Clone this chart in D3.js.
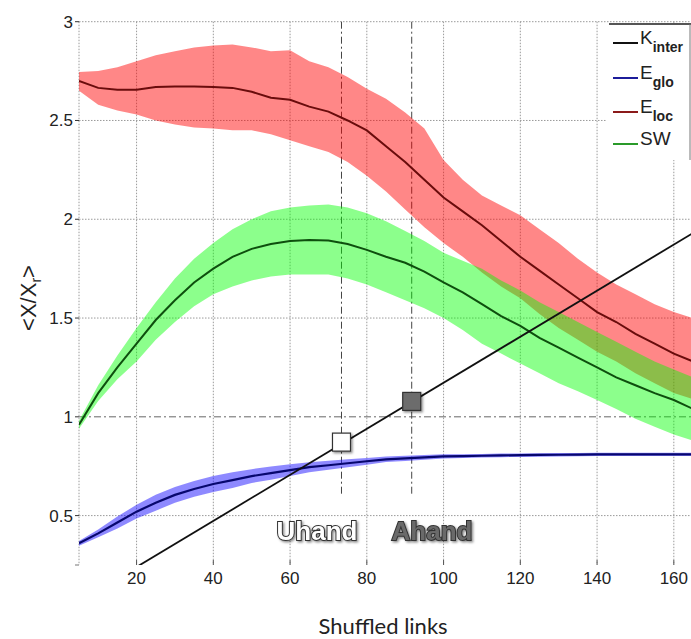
<!DOCTYPE html>
<html>
<head>
<meta charset="utf-8">
<script src="https://cdn.jsdelivr.net/npm/d3@7"></script>
<style>
  body { margin: 0; background: #fff; }
  svg { display: block; }
</style>
</head>
<body>
<svg id="chart" width="691" height="639"></svg>
<script>
// shuffled links (x) sampled every 5
const xs = [5,10,15,20,25,30,35,40,45,50,55,60,65,70,75,80,85,90,95,100,105,110,115,120,125,130,135,140,145,150,155,160,165];

// E_loc (red)
const elocMean  = [2.70,2.665,2.655,2.655,2.67,2.672,2.672,2.67,2.665,2.645,2.615,2.605,2.57,2.545,2.50,2.45,2.37,2.29,2.20,2.11,2.04,1.97,1.89,1.81,1.74,1.67,1.60,1.53,1.48,1.42,1.37,1.32,1.28];
const elocUpper = [2.745,2.75,2.77,2.80,2.83,2.85,2.87,2.88,2.885,2.87,2.85,2.855,2.80,2.77,2.72,2.66,2.61,2.54,2.46,2.30,2.20,2.12,2.07,2.02,1.95,1.88,1.80,1.73,1.67,1.62,1.57,1.53,1.50];
const elocLower = [2.65,2.58,2.55,2.53,2.50,2.48,2.465,2.46,2.45,2.45,2.43,2.40,2.37,2.34,2.29,2.22,2.14,2.05,1.96,1.88,1.81,1.73,1.66,1.60,1.52,1.45,1.39,1.33,1.28,1.22,1.17,1.12,1.09];

// SW (green)
const swMean  = [0.96,1.12,1.25,1.37,1.49,1.59,1.68,1.75,1.81,1.85,1.875,1.89,1.895,1.893,1.875,1.845,1.81,1.78,1.735,1.68,1.63,1.57,1.51,1.46,1.40,1.35,1.30,1.25,1.20,1.16,1.12,1.085,1.04];
const swUpper = [0.98,1.16,1.31,1.45,1.58,1.70,1.80,1.88,1.95,2.00,2.04,2.06,2.07,2.075,2.06,2.03,1.99,1.94,1.89,1.83,1.79,1.75,1.69,1.64,1.58,1.53,1.48,1.43,1.38,1.33,1.28,1.24,1.20];
const swLower = [0.94,1.08,1.19,1.28,1.39,1.48,1.56,1.62,1.66,1.69,1.71,1.72,1.72,1.72,1.70,1.67,1.63,1.59,1.55,1.50,1.44,1.37,1.32,1.27,1.22,1.17,1.13,1.085,1.04,0.99,0.95,0.91,0.88];

// E_glo (blue)
const egloMean  = [0.36,0.41,0.465,0.52,0.565,0.605,0.635,0.66,0.68,0.70,0.715,0.73,0.745,0.755,0.765,0.775,0.785,0.79,0.795,0.80,0.801,0.803,0.805,0.806,0.807,0.808,0.809,0.81,0.81,0.81,0.81,0.81,0.81];
const egloUpper = [0.372,0.43,0.495,0.555,0.605,0.645,0.675,0.70,0.72,0.735,0.748,0.76,0.77,0.778,0.785,0.792,0.799,0.803,0.807,0.811,0.811,0.812,0.814,0.815,0.816,0.817,0.817,0.818,0.818,0.818,0.818,0.818,0.818];
const egloLower = [0.348,0.39,0.435,0.485,0.525,0.565,0.595,0.62,0.64,0.665,0.682,0.70,0.72,0.732,0.745,0.758,0.771,0.777,0.783,0.789,0.791,0.794,0.796,0.797,0.798,0.799,0.801,0.802,0.802,0.802,0.802,0.802,0.802];

// K_inter (straight line)
const kinterX = [20, 165];
const kinterY = [0.24, 1.93];

// hand thresholds
const handNames = ["Uhand", "Ahand"];
const handX = [73.4, 91.7];
const handY = [0.872, 1.078];

const xTicks = [20,40,60,80,100,120,140,160];
const yTicks = [0.5,1,1.5,2,2.5,3];

const legendNames = [["K","inter"],["E","glo"],["E","loc"],["SW",""]];
const legendColors = ["#111111","#1c1c9a","#8b1a1a","#2a9a2a"];

let svg = d3.select('#chart');
let plotLeft = 79, plotTop = 21.7, plotRight = 693, plotBottom = 565;

let x = d3.scaleLinear().domain([5, 165]).range([plotLeft, plotRight]);
let y = d3.scaleLinear().domain([0.25, 3]).range([plotBottom, plotTop]);

const FONT = "'Liberation Sans', Arial, sans-serif";

let defs = svg.append('defs');
defs.append('clipPath').attr('id', 'plotclip')
  .append('rect').attr('x', plotLeft).attr('y', plotTop - 1).attr('width', plotRight - plotLeft).attr('height', plotBottom - plotTop + 1);
let shadow = defs.append('filter').attr('id', 'shadow').attr('x', '-30%').attr('y', '-30%').attr('width', '160%').attr('height', '160%');
shadow.append('feDropShadow').attr('dx', 1.5).attr('dy', 1.5).attr('stdDeviation', 1.2).attr('flood-color', '#000').attr('flood-opacity', 0.45);

// grid
let grid = svg.append('g').attr('class', 'grid');
grid.selectAll('line.vx').data(xTicks).join('line').classed('vx', true)
  .attr('x1', d => x(d)).attr('x2', d => x(d)).attr('y1', plotTop).attr('y2', plotBottom)
  .attr('stroke', '#9a9a9a').attr('stroke-width', 1).attr('stroke-dasharray', '1.5,1.5');
grid.selectAll('line.hy').data(yTicks.filter(d => d !== 1)).join('line').classed('hy', true)
  .attr('x1', plotLeft).attr('x2', plotRight).attr('y1', d => y(d)).attr('y2', d => y(d))
  .attr('stroke', '#9a9a9a').attr('stroke-width', 1).attr('stroke-dasharray', '1.5,1.5');
// left axis drawn as dotted line
grid.append('line').attr('x1', plotLeft).attr('x2', plotLeft).attr('y1', plotTop).attr('y2', plotBottom)
  .attr('stroke', '#9a9a9a').attr('stroke-dasharray', '1.5,1.5');

// dash-dot reference lines
let ref = svg.append('g').attr('class', 'ref');
ref.append('line').attr('x1', plotLeft).attr('x2', plotRight).attr('y1', y(1)).attr('y2', y(1))
  .attr('stroke', '#666').attr('stroke-width', 1).attr('stroke-dasharray', '7,3,2,3');
ref.selectAll('line.hand').data(handX).join('line').classed('hand', true)
  .attr('x1', d => x(d)).attr('x2', d => x(d)).attr('y1', plotTop).attr('y2', 494)
  .attr('stroke', '#444').attr('stroke-width', 1).attr('stroke-dasharray', '7,3,2,3');

// bands + mean lines
let plot = svg.append('g').attr('clip-path', 'url(#plotclip)');

function band(upper, lower){
  return d3.area()
    .x((d, i) => x(xs[i]))
    .y0((d, i) => y(lower[i]))
    .y1((d, i) => y(upper[i]))(xs);
}
function meanLine(vals){
  return d3.line().x((d, i) => x(xs[i])).y((d, i) => y(vals[i]))(xs);
}

plot.append('path').attr('d', band(elocUpper, elocLower)).attr('fill', 'rgb(255,0,0)').attr('fill-opacity', 0.47);
plot.append('path').attr('d', band(swUpper, swLower)).attr('fill', 'rgb(0,255,0)').attr('fill-opacity', 0.45);
plot.append('path').attr('d', band(egloUpper, egloLower)).attr('fill', 'rgb(30,20,255)').attr('fill-opacity', 0.5);

plot.append('path').attr('d', meanLine(elocMean)).attr('fill', 'none').attr('stroke', '#6a0c0c').attr('stroke-width', 2);
plot.append('path').attr('d', meanLine(swMean)).attr('fill', 'none').attr('stroke', '#0e4f0e').attr('stroke-width', 2);
plot.append('path').attr('d', meanLine(egloMean)).attr('fill', 'none').attr('stroke', '#07076e').attr('stroke-width', 2.2);

let kLine = d3.line().x(d => x(d[0])).y(d => y(d[1]));
plot.append('path').attr('d', kLine(d3.zip(kinterX, kinterY)))
  .attr('fill', 'none').attr('stroke', '#111').attr('stroke-width', 1.8);

// markers
let markerFill = ['#ffffff', '#6c6c6c'];
svg.selectAll('rect.marker').data(handX).join('rect').classed('marker', true)
  .attr('x', d => x(d) - 9).attr('y', (d, i) => y(handY[i]) - 9)
  .attr('width', 18).attr('height', 18)
  .attr('fill', (d, i) => markerFill[i]).attr('stroke', '#333').attr('stroke-width', 1.2)
  .attr('filter', 'url(#shadow)');

// hand labels
let labelFill = ['#ffffff', '#6a6a6a'];
svg.selectAll('text.hand').data(handNames).join('text').classed('hand', true)
  .attr('x', (d, i) => [317, 432][i]).attr('y', 540)
  .attr('text-anchor', 'middle')
  .style('font-family', FONT).style('font-weight', 'bold').style('font-size', '26px')
  .attr('fill', (d, i) => labelFill[i])
  .attr('stroke', '#333').attr('stroke-width', 2).attr('paint-order', 'stroke')
  .attr('filter', 'url(#shadow)')
  .text(d => d);

// ticks
let ticks = svg.append('g').attr('class', 'ticks');
ticks.selectAll('line.yt').data(yTicks).join('line').classed('yt', true)
  .attr('x1', plotLeft - 4).attr('x2', plotLeft).attr('y1', d => y(d)).attr('y2', d => y(d))
  .attr('stroke', '#333').attr('stroke-width', 1);
ticks.append('line').attr('x1', plotLeft - 4).attr('x2', plotLeft).attr('y1', plotBottom).attr('y2', plotBottom)
  .attr('stroke', '#777');
ticks.selectAll('line.xt').data(xTicks).join('line').classed('xt', true)
  .attr('x1', d => x(d)).attr('x2', d => x(d)).attr('y1', plotBottom - 5).attr('y2', plotBottom)
  .attr('stroke', '#555').attr('stroke-width', 1);

ticks.selectAll('text.yl').data(yTicks).join('text').classed('yl', true)
  .attr('x', plotLeft - 6).attr('y', d => y(d) + 6)
  .attr('text-anchor', 'end')
  .style('font-family', FONT).style('font-size', '17px').attr('fill', '#222')
  .text(d => d);
ticks.selectAll('text.xl').data(xTicks).join('text').classed('xl', true)
  .attr('x', d => x(d)).attr('y', 584)
  .attr('text-anchor', 'middle')
  .style('font-family', FONT).style('font-size', '17px').attr('fill', '#222')
  .text(d => d);

// axis titles
svg.append('text').attr('x', 383).attr('y', 634).attr('text-anchor', 'middle')
  .style('font-family', "Lato, 'Open Sans', sans-serif").style('font-size', '22px').attr('fill', '#222')
  .text('Shuffled links');

let yTitle = svg.append('text').attr('transform', 'translate(36,298) rotate(-90)').attr('text-anchor', 'middle')
  .style('font-family', FONT).style('font-size', '22px').attr('fill', '#222');
yTitle.append('tspan').text('<X/X');
yTitle.append('tspan').attr('dy', 5).style('font-size', '14px').text('r');
yTitle.append('tspan').attr('dy', -5).text('>');

// legend
let legend = svg.append('g').attr('class', 'legend');
legend.append('rect').attr('x', 606).attr('y', 24).attr('width', 86).attr('height', 136).attr('fill', '#fff');
legend.append('line').attr('x1', 609).attr('x2', 691).attr('y1', 24).attr('y2', 24).attr('stroke', '#555').attr('stroke-width', 2);
legend.append('line').attr('x1', 690).attr('x2', 690).attr('y1', 24).attr('y2', 160).attr('stroke', '#777').attr('stroke-width', 1);

let legendY = [43, 78, 112, 144];
let entry = legend.selectAll('g.entry').data(legendNames).join('g').classed('entry', true)
  .attr('transform', (d, i) => `translate(0,${legendY[i]})`);
entry.append('line').attr('x1', 613).attr('x2', 638).attr('y1', 0).attr('y2', 0)
  .attr('stroke', (d, i) => legendColors[i]).attr('stroke-width', 2);
let lt = entry.append('text').attr('x', 640).attr('y', 1)
  .style('font-family', FONT).style('font-size', '19px').attr('fill', '#222');
lt.append('tspan').text(d => d[0]);
lt.append('tspan').attr('dy', 8).style('font-size', '14px').style('font-weight', 'bold').text(d => d[1]);
</script>
</body>
</html>
